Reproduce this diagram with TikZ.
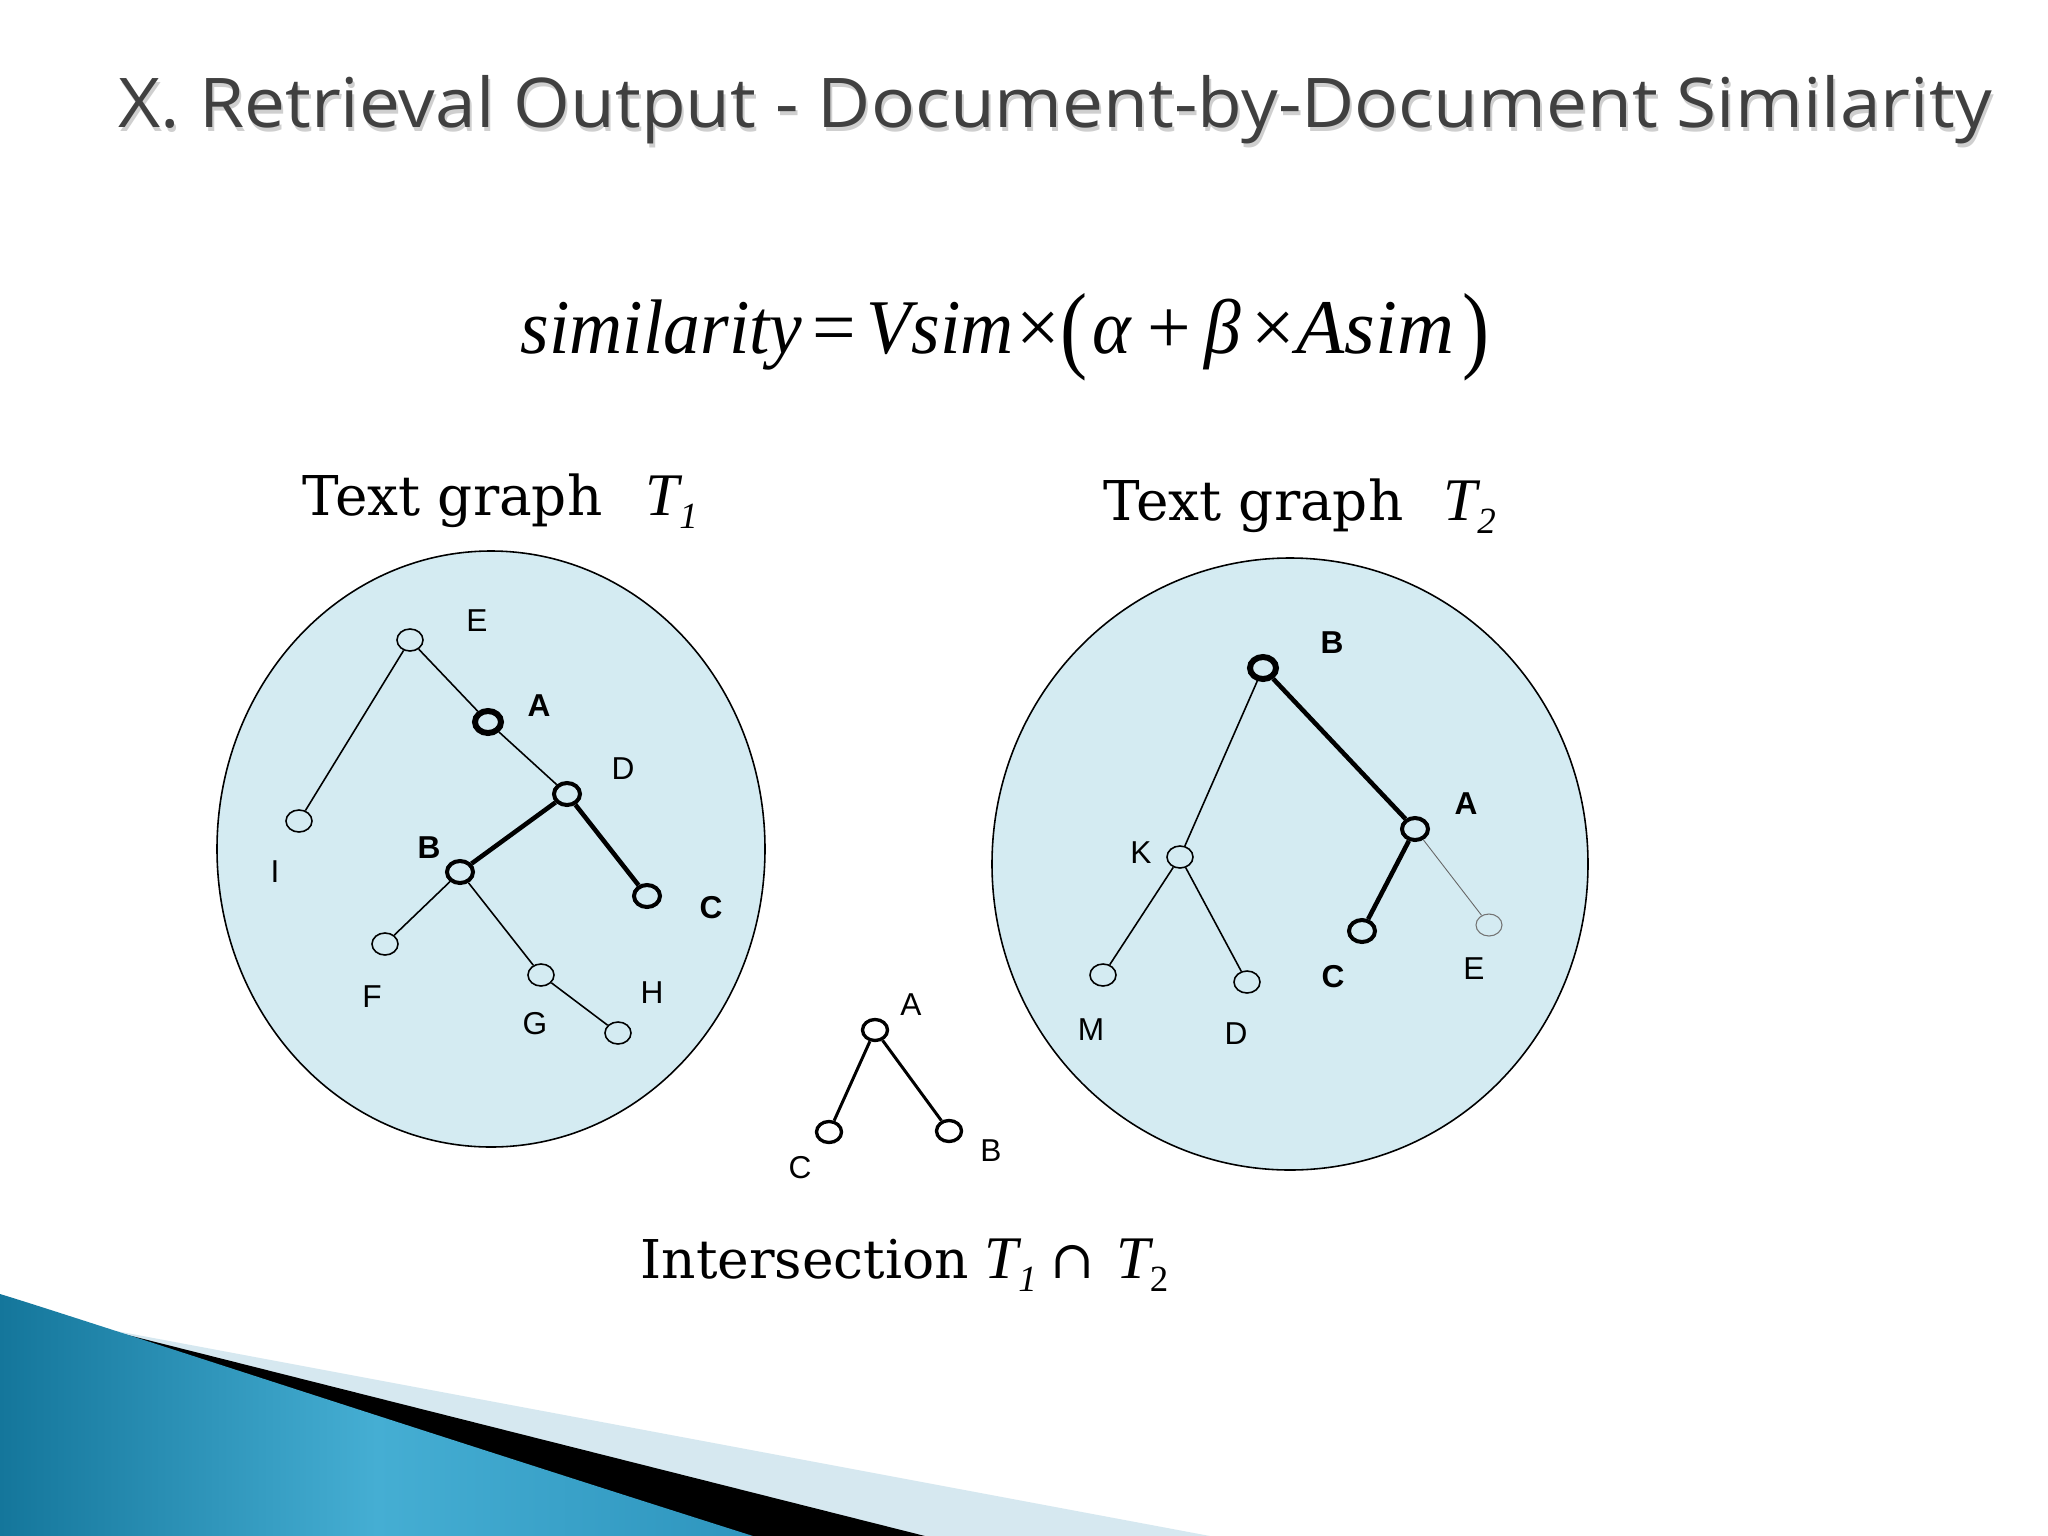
\documentclass[tikz,border=0pt]{standalone}
\usepackage{fontspec}
\setmainfont{Liberation Serif}
\newfontfamily\titlefont{Open Sans}
\newfontfamily\labfont{Liberation Sans}
\newfontfamily\capfont{DejaVu Serif}
\newfontfamily\fmlfont{Liberation Serif}
\usetikzlibrary{shapes.geometric}
\definecolor{circfill}{HTML}{D4EBF2}
\definecolor{titlegray}{HTML}{404040}
\definecolor{shadowgray}{HTML}{CFCFCF}
\definecolor{bandlight}{HTML}{D6E8F0}
\definecolor{teal1}{HTML}{14769B}
\definecolor{teal2}{HTML}{45AED3}
\definecolor{teal3}{HTML}{2E95BE}
\newcommand{\fit}[1]{\scalebox{0.95}[1]{\fmlfont\fontsize{22}{26}\selectfont\itshape #1}}
\newcommand{\fitw}[1]{\scalebox{1.02}[1]{\fmlfont\fontsize{22}{26}\selectfont\itshape #1}}
\newcommand{\fup}[1]{{\fmlfont\fontsize{22}{26}\selectfont #1}}
\newcommand{\fpar}[1]{\raisebox{-2.2pt}{\scalebox{1.05}[1.25]{\fmlfont\fontsize{22}{26}\selectfont #1}}}
\newcommand{\ttl}{\scalebox{1.065}[1]{\titlefont\fontsize{19.5}{23}\selectfont X. Retrieval Output - Document-by-Document Similarity}}
\tikzset{
  vtx/.style={ellipse, draw, fill=circfill, minimum width=0.26cm, minimum height=0.22cm, inner sep=0pt, line width=0.45pt},
  vtxm/.style={vtx, line width=1.14pt},
  vtxk/.style={vtx, line width=1.7pt},
  vtxg/.style={vtx, draw=black!55, line width=0.3pt},
  ivtx/.style={vtx, fill=white, minimum width=0.25cm, minimum height=0.21cm, line width=0.95pt},
  lab/.style={inner sep=0pt, font=\labfont\fontsize{9}{9}\selectfont},
  labb/.style={inner sep=0pt, font=\labfont\bfseries\fontsize{9}{9}\selectfont},
  thinedge/.style={line width=0.45pt},
  thickedge/.style={line width=1.3pt},
  faintedge/.style={line width=0.25pt, draw=black!60},
  iedge/.style={line width=0.85pt},
  region/.style={draw, fill=circfill, line width=0.45pt},
  txtcap/.style={anchor=base west, inner sep=0pt}
}
\begin{document}
\begin{tikzpicture}[x=0.01cm,y=-0.01cm]
\useasboundingbox[fill=white] (0,0) rectangle (2048,1536);

% bottom-left decoration
\fill[bandlight] (100,1328) -- (1210,1536) -- (700,1536) -- cycle;
\fill[black] (100,1328) -- (925,1536) -- (700,1536) -- cycle;
\shade[left color=teal1, right color=teal3, middle color=teal2] (0,1294) .. controls (60,1312) and (400,1424) .. (753,1536) -- (0,1536) -- cycle;

% title
\node[txtcap, text=shadowgray] (titleshadow) at (120,131) {\ttl};
\node[txtcap, text=titlegray] (title) at (118,127) {\ttl};

% formula
\node[txtcap] (f1) at (520,353) {\fit{similarity}};
\node[txtcap] (f2) at (812,353) {\fup{=}};
\node[txtcap] (f3) at (866,353) {\fit{Vsim}};
\node[txtcap] (f4) at (1016,353) {\fup{×}};
\node[txtcap] (f5) at (1060,353) {\fpar{(}};
\node[txtcap] (f6) at (1092,353) {\fit{α}};
\node[txtcap] (f7) at (1147,353) {\fup{+}};
\node[txtcap] (f8) at (1204,353) {\fit{β}};
\node[txtcap] (f9) at (1251,353) {\fup{×}};
\node[txtcap] (f10) at (1296,353) {\fitw{Asim}};
\node[txtcap] (f11) at (1462,353) {\fpar{)}};

% captions
\node[txtcap] (cap1) at (302,515) {\capfont\fontsize{15.6}{18}\selectfont Text graph};
\node[txtcap] (cap1T) at (645,515) {\fmlfont\fontsize{17.2}{20}\selectfont\itshape T\raisebox{-3.8pt}{\fontsize{10.5}{12}\selectfont 1}};
\node[txtcap] (cap2) at (1103,520) {\capfont\fontsize{15.6}{18}\selectfont Text graph};
\node[txtcap] (cap2T) at (1443,520) {\fmlfont\fontsize{17.2}{20}\selectfont\itshape T\raisebox{-3.8pt}{\fontsize{10.5}{12}\selectfont 2}};
\node[txtcap] (cap3) at (640,1278) {\capfont\fontsize{15.2}{18}\selectfont Intersection};
\node[txtcap] (cap3T) at (984,1278) {\fmlfont\fontsize{17.2}{20}\selectfont\itshape T\raisebox{-3.8pt}{\fontsize{10.5}{12}\selectfont 1}\kern4pt{\capfont\upshape\fontsize{15}{18}\selectfont ∩}\kern6pt T\raisebox{-3.8pt}{\fontsize{10.5}{12}\selectfont\upshape 2}};

% left region T1
\draw[region] (491,849) ellipse [x radius=274, y radius=298];
\node[vtx]  (lE) at (410,640) {};
\node[vtxk] (lA) at (488,722) {};
\node[vtxm] (lD) at (567,794) {};
\node[vtx]  (lI) at (299,821) {};
\node[vtxm] (lB) at (460,872) {};
\node[vtxm] (lC) at (647,896) {};
\node[vtx]  (lF) at (385,944) {};
\node[vtx]  (lG) at (541,975) {};
\node[vtx]  (lH) at (618,1033) {};
\draw[thinedge] (lE) -- (lI);
\draw[thinedge] (lE) -- (lA);
\draw[thinedge] (lA) -- (lD);
\draw[thickedge] (lD) -- (lB);
\draw[thickedge] (lD) -- (lC);
\draw[thinedge] (lB) -- (lF);
\draw[thinedge] (lB) -- (lG);
\draw[thinedge] (lG) -- (lH);
\node[lab]  (tlE) at (477,621) {E};
\node[labb] (tlA) at (539,706) {A};
\node[lab]  (tlD) at (623,769) {D};
\node[lab]  (tlI) at (275,872) {I};
\node[labb] (tlB) at (429,848) {B};
\node[labb] (tlC) at (711,908) {C};
\node[lab]  (tlF) at (372,997) {F};
\node[lab]  (tlG) at (535,1024) {G};
\node[lab]  (tlH) at (652,993) {H};

% right region T2
\draw[region] (1290,864) ellipse [x radius=298, y radius=306];
\node[vtxk] (rB) at (1263,668) {};
\node[vtxm] (rA) at (1415,829) {};
\node[vtx]  (rK) at (1180,857) {};
\node[vtxm] (rC) at (1362,931) {};
\node[vtxg] (rE) at (1489,925) {};
\node[vtx]  (rM) at (1103,975) {};
\node[vtx]  (rD) at (1247,982) {};
\draw[thinedge] (rB) -- (rK);
\draw[thickedge] (rB) -- (rA);
\draw[thickedge] (rA) -- (rC);
\draw[faintedge] (rA) -- (rE);
\draw[thinedge] (rK) -- (rM);
\draw[thinedge] (rK) -- (rD);
\node[labb] (trB) at (1332,643) {B};
\node[labb] (trA) at (1466,804) {A};
\node[lab]  (trK) at (1141,853) {K};
\node[labb] (trC) at (1333,977) {C};
\node[lab]  (trE) at (1474,969) {E};
\node[lab]  (trM) at (1091,1030) {M};
\node[lab]  (trD) at (1236,1034) {D};

% intersection
\node[ivtx] (iA) at (875,1030) {};
\node[ivtx] (iC) at (829,1132) {};
\node[ivtx] (iB) at (949,1131) {};
\draw[iedge] (iA) -- (iC);
\draw[iedge] (iA) -- (iB);
\node[lab] (tiA) at (911,1005) {A};
\node[lab] (tiC) at (800,1168) {C};
\node[lab] (tiB) at (991,1151) {B};
\end{tikzpicture}
\end{document}
